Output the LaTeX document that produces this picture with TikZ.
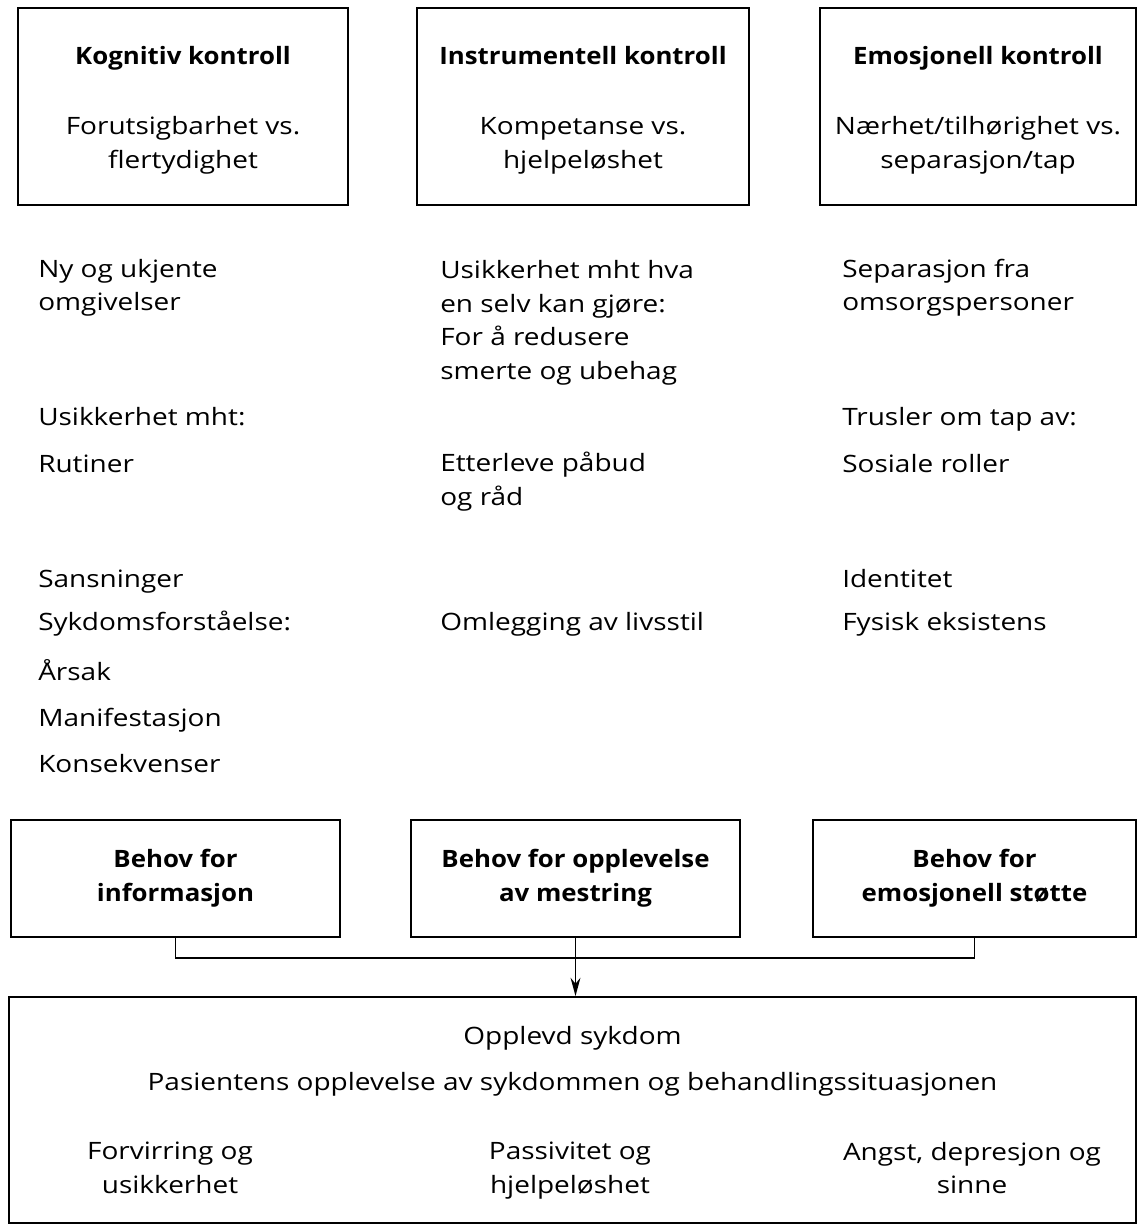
\documentclass[tikz,border=0pt]{standalone}
\usepackage{fontspec}
\setmainfont{Open Sans}[FakeStretch=1.17, BoldFeatures={FakeStretch=1.08}]
\usetikzlibrary{arrows.meta,positioning}

\begin{document}
\begin{tikzpicture}[
    x=0.025cm, y=-0.025cm,
    font=\fontsize{17}{24}\selectfont,
    ctrl/.style={draw, line width=1.3pt, minimum height=4.925cm, inner sep=0pt},
    ctxt/.style={align=center, inner sep=0pt},
    need/.style={draw, line width=1.3pt, minimum height=2.925cm, align=center, inner sep=0pt, font=\fontsize{17}{24}\selectfont\bfseries},
    item/.style={anchor=west, align=left, inner sep=0pt, execute at begin node=\strut, execute at end node=\strut},
    mid/.style={align=center, inner sep=0pt, execute at begin node=\strut, execute at end node=\strut},
    arr/.style={-{Stealth[length=13pt, width=7pt]}, line width=1.3pt}
]
\useasboundingbox (0,0) rectangle (1138,1229);

% kontrollformer
\node[ctrl, minimum width=8.25cm] (kog) at (183,106.5) {};
\node[ctrl, minimum width=8.3cm] (ins) at (583,106.5) {};
\node[ctrl, minimum width=7.9cm] (emo) at (978,106.5) {};
\node[ctxt] (kogt) at ([yshift=-0.1cm]kog.center) {\textbf{Kognitiv kontroll}\\[26pt]Forutsigbarhet vs.\\flertydighet};
\node[ctxt] (inst) at ([yshift=-0.1cm]ins.center) {\textbf{Instrumentell kontroll}\\[26pt]Kompetanse vs.\\hjelpeløshet};
\node[ctxt] (emot) at ([yshift=-0.1cm]emo.center) {\textbf{Emosjonell kontroll}\\[26pt]Nærhet/tilhørighet vs.\\separasjon/tap};

% trusler
\node[item] (k1) at (38,290) {Ny og ukjente\\omgivelser};
\node[item] (k2) at (38,419) {Usikkerhet mht:};
\node[item] (k3) at (38,466) {Rutiner};
\node[item] (k4) at (38,581) {Sansninger};
\node[item] (k5) at (38,624) {Sykdomsforståelse:};
\node[item] (k6) at (38,674) {Årsak};
\node[item] (k7) at (38,720) {Manifestasjon};
\node[item] (k8) at (38,766) {Konsekvenser};

\node[item] (i1) at (440,325) {Usikkerhet mht hva\\en selv kan gjøre:\\For å redusere\\smerte og ubehag};
\node[item] (i2) at (440,484) {Etterleve påbud\\og råd};
\node[item] (i3) at (440,624) {Omlegging av livsstil};

\node[item] (e1) at (842,290) {Separasjon fra\\omsorgspersoner};
\node[item] (e2) at (842,419) {Trusler om tap av:};
\node[item] (e3) at (842,466) {Sosiale roller};
\node[item] (e4) at (842,581) {Identitet};
\node[item] (e5) at (842,624) {Fysisk eksistens};

% behov
\node[need, minimum width=8.225cm] (info) at (175.5,878.5) {Behov for\\informasjon};
\node[need, minimum width=8.225cm] (mestr) at (575.5,878.5) {Behov for opplevelse\\av mestring};
\node[need, minimum width=8.075cm] (stotte) at (974.5,878.5) {Behov for\\emosjonell støtte};

% opplevd sykdom
\node[draw, line width=1.3pt, minimum width=28.175cm, minimum height=5.65cm, inner sep=0pt] (syk) at (572.5,1110) {};
\node[mid] (s1) at (572.5,1038) {Opplevd sykdom};
\node[mid] (s2) at (572.5,1084) {Pasientens opplevelse av sykdommen og behandlingssituasjonen};
\node[mid] (s3) at (170,1173) {Forvirring og\\usikkerhet};
\node[mid] (s4) at (570,1173) {Passivitet og\\hjelpeløshet};
\node[mid] (s5) at (972,1173) {Angst, depresjon og\\sinne};

\draw[line width=1.3pt] (info.south) -- ++(0,20) -| (stotte.south);
\draw[arr] (mestr.south) -- (syk.north -| mestr.south);
\end{tikzpicture}
\end{document}
